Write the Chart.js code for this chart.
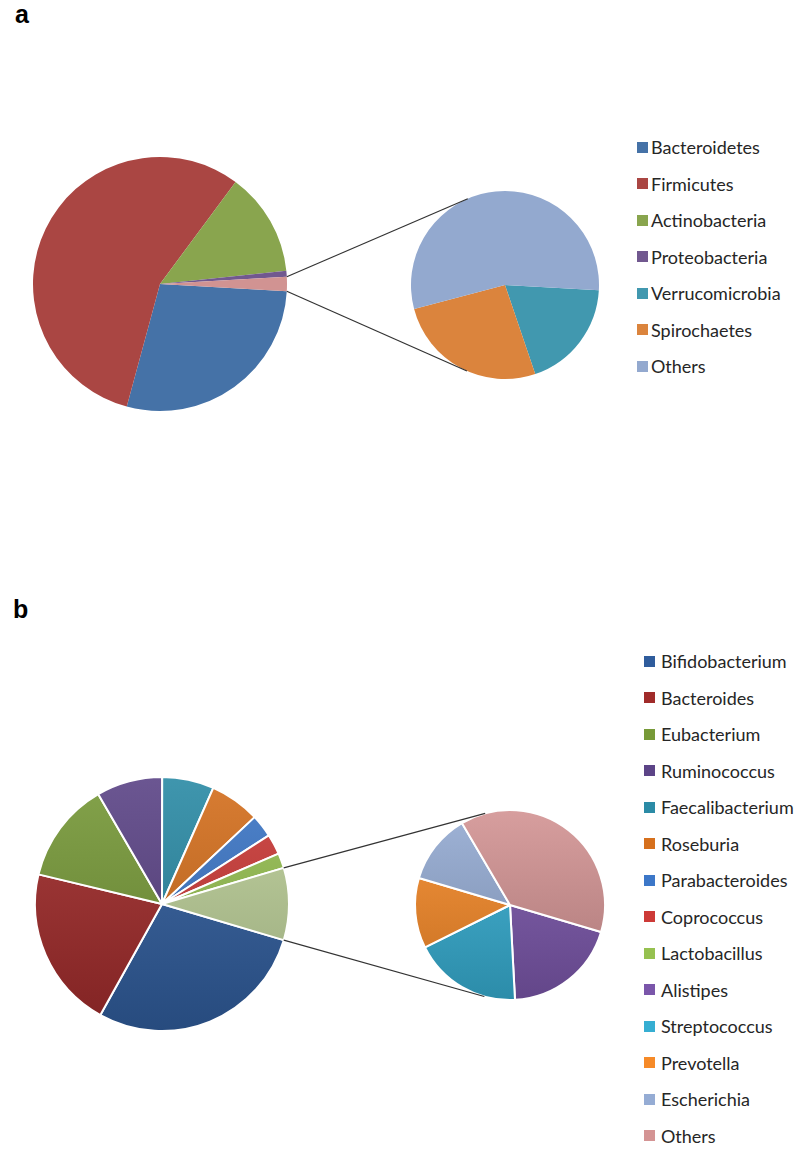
<!DOCTYPE html>
<html>
<head>
<meta charset="utf-8">
<script src="https://cdn.jsdelivr.net/npm/chart.js@4.4.1/dist/chart.umd.min.js"></script>
<style>
  body { margin: 0; background: #fff; width: 800px; height: 1150px; position: relative; overflow: hidden; font-family: Lato, "Open Sans", sans-serif; }
  .box { position: absolute; }
  .tag { position: absolute; font: bold 25px "Liberation Sans", Arial, sans-serif; line-height: 25px; color: #000; }
  .legend { position: absolute; left: 0; top: 0; }
  .row { position: absolute; height: 24px; display: flex; align-items: center; font-size: 18px; color: #262626; white-space: nowrap; }
  .sw { width: 11px; height: 11px; flex: none; }
  #lines { position: absolute; left: 0; top: 0; pointer-events: none; }
</style>
</head>
<body>
<div class="tag" style="left:15px;top:2px">a</div>
<div class="tag" style="left:13px;top:597px">b</div>

<div class="box" id="boxMainA" style="left:25px;top:149px;width:270px;height:270px"><canvas id="mainA"></canvas></div>
<div class="box" id="boxSmallA" style="left:405px;top:185px;width:200px;height:200px"><canvas id="smallA"></canvas></div>
<div class="box" id="boxMainB" style="left:27px;top:769px;width:270px;height:270px"><canvas id="mainB"></canvas></div>
<div class="box" id="boxSmallB" style="left:410px;top:805px;width:200px;height:200px"><canvas id="smallB"></canvas></div>
<div id="legendA" class="legend"></div>
<div id="legendB" class="legend"></div>
<canvas id="lines"></canvas>

<script>
// panel a: phyla (% of reads)
const phyla = ['Bacteroidetes', 'Firmicutes', 'Actinobacteria', 'Proteobacteria', 'Verrucomicrobia', 'Spirochaetes', 'Others'];
const phylaShare = [28.3, 55.9, 13.2, 0.75, 0.34, 0.47, 0.99];
const phylaColors = ['#4572A7', '#AA4643', '#89A54E', '#71588F', '#4198AF', '#DB843D', '#93A9CF'];
const phylaRestColor = '#D19392';
const phylaSplit = 4; // first 4 stay in the big pie, the rest go to the small one

// panel b: genera (% of reads)
const genera = ['Bifidobacterium', 'Bacteroides', 'Eubacterium', 'Ruminococcus', 'Faecalibacterium', 'Roseburia',
  'Parabacteroides', 'Coprococcus', 'Lactobacillus', 'Alistipes', 'Streptococcus', 'Prevotella', 'Escherichia', 'Others'];
const generaShare = [28.5, 20.7, 12.9, 8.4, 6.6, 6.4, 2.9, 2.6, 1.9, 1.8, 1.7, 1.1, 1.1, 3.5];
const generaColors = ['#2F5C9C', '#A02B2A', '#779A38', '#5C4487', '#2B8BA6', '#D6701D', '#3C77C8',
  '#CD3A37', '#96C150', '#7A56AA', '#36AED2', '#F68A28', '#95ACD4', '#D49494'];
const generaRestColor = '#BCCF98';
const generaSplit = 9;

function sum(a) { return a.reduce((s, v) => s + v, 0); }

function shade(hex, amt) {
  const n = parseInt(hex.slice(1), 16);
  const t = amt < 0 ? 0 : 255, p = Math.abs(amt);
  const c = [n >> 16, (n >> 8) & 255, n & 255].map(v => Math.round(v + (t - v) * p));
  return `rgb(${c[0]},${c[1]},${c[2]})`;
}

function gradFill(colors) {
  return function(ctx) {
    const color = colors[ctx.dataIndex];
    const area = ctx.chart.chartArea;
    if (!area) return color;
    const g = ctx.chart.ctx.createLinearGradient(0, area.top, 0, area.bottom);
    g.addColorStop(0, shade(color, 0.1));
    g.addColorStop(1, shade(color, -0.2));
    return g;
  };
}

function makePie(id, labels, values, fill, radius, rotation, border) {
  return new Chart(document.getElementById(id), {
    type: 'pie',
    data: {
      labels: labels,
      datasets: [{
        data: values,
        backgroundColor: fill,
        borderColor: '#fff',
        borderWidth: border
      }]
    },
    options: {
      responsive: true,
      maintainAspectRatio: false,
      animation: false,
      events: [],
      radius: radius,
      rotation: rotation,
      layout: { padding: 0 },
      plugins: { legend: { display: false }, tooltip: { enabled: false } }
    }
  });
}

function pieOfPie(prefix, labels, values, colors, restColor, split, bigR, smallR, border, gradient) {
  const rest = values.slice(split);
  const restTotal = sum(rest);
  const mainVals = values.slice(0, split).concat([restTotal]);
  const mainCols = colors.slice(0, split).concat([restColor]);
  const smallCols = colors.slice(split);
  // "other" wedge is centred on 3 o'clock, the small pie starts where it ends
  const rot = 90 + restTotal / sum(values) * 180;
  const main = makePie('main' + prefix, labels.slice(0, split).concat(['Other']), mainVals,
    gradient ? gradFill(mainCols) : mainCols, bigR, rot, border);
  const small = makePie('small' + prefix, labels.slice(split), rest,
    gradient ? gradFill(smallCols) : smallCols, smallR, rot, border);
  return [main, small];
}

function legend(id, labels, colors, x, y0, step, gap) {
  const el = document.getElementById(id);
  labels.forEach((name, i) => {
    const row = document.createElement('div');
    row.className = 'row';
    row.style.left = x + 'px';
    row.style.top = (y0 + i * step - 12) + 'px';
    const sw = document.createElement('span');
    sw.className = 'sw';
    sw.style.background = colors[i];
    sw.style.marginRight = gap + 'px';
    const tx = document.createElement('span');
    tx.textContent = name;
    row.appendChild(sw);
    row.appendChild(tx);
    el.appendChild(row);
  });
}

const [mainA, smallA] = pieOfPie('A', phyla, phylaShare, phylaColors, phylaRestColor, phylaSplit, 127, 94, 0, false);
const [mainB, smallB] = pieOfPie('B', genera, generaShare, generaColors, generaRestColor, generaSplit, 127, 95, 2, true);

legend('legendA', phyla, phylaColors, 637, 147, 36.5, 3);
legend('legendB', genera, generaColors, 644, 661, 36.5, 6);

// connector lines from the "other" wedge to the small pie (tangents)
const lines = document.getElementById('lines');
const dpr = window.devicePixelRatio || 1;
lines.width = 800 * dpr; lines.height = 1150 * dpr;
lines.style.width = '800px'; lines.style.height = '1150px';
const lc = lines.getContext('2d');
lc.scale(dpr, dpr);

function connect(main, mainBox, small, smallBox) {
  const mb = document.getElementById(mainBox), sb = document.getElementById(smallBox);
  const data = main.getDatasetMeta(0).data;
  const arc = data[data.length - 1];
  const ends = [arc.startAngle, arc.endAngle].map(a => ({
    x: mb.offsetLeft + arc.x + arc.outerRadius * Math.cos(a),
    y: mb.offsetTop + arc.y + arc.outerRadius * Math.sin(a)
  })).sort((p, q) => p.y - q.y);
  const s = small.getDatasetMeta(0).data[0];
  const cx = sb.offsetLeft + s.x, cy = sb.offsetTop + s.y, r = s.outerRadius;
  lc.strokeStyle = '#333';
  lc.lineWidth = 1.2;
  ends.forEach((p, i) => {
    const d = Math.hypot(p.x - cx, p.y - cy);
    const phi = Math.atan2(p.y - cy, p.x - cx);
    const alpha = Math.acos(r / d);
    const ang = i === 0 ? phi + alpha : phi - alpha;
    lc.beginPath();
    lc.moveTo(p.x, p.y);
    lc.lineTo(cx + r * Math.cos(ang), cy + r * Math.sin(ang));
    lc.stroke();
  });
}

connect(mainA, 'boxMainA', smallA, 'boxSmallA');
connect(mainB, 'boxMainB', smallB, 'boxSmallB');
</script>
</body>
</html>
